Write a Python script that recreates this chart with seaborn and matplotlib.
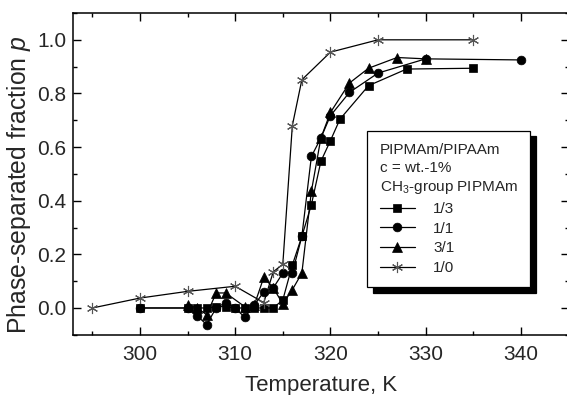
import matplotlib
matplotlib.use("Agg")
import matplotlib.pyplot as plt
import seaborn as sns
import numpy as np
from matplotlib.ticker import MultipleLocator

sns.set_style("ticks")
plt.rcParams['font.family'] = ['Liberation Sans', 'DejaVu Sans']
plt.rcParams['mathtext.fontset'] = 'custom'
plt.rcParams['mathtext.rm'] = 'Liberation Sans'
plt.rcParams['mathtext.it'] = 'Liberation Sans:italic'

# ---- data ----
t_13 = [300, 305, 306, 307, 308, 309, 310, 311, 312, 313, 314, 315, 316, 317, 318, 319, 320, 321, 324, 328, 335]
p_13 = [0, 0, 0, 0, 0.005, 0.005, 0, 0, 0, 0, 0, 0.03, 0.16, 0.267, 0.385, 0.547, 0.624, 0.704, 0.829, 0.891, 0.894]

t_11 = [300, 305, 306, 307, 308, 309, 310, 311, 312, 313, 314, 315, 316, 317, 318, 319, 320, 322, 325, 330, 340]
p_11 = [0, 0, -0.029, -0.062, 0, 0.02, 0, -0.035, 0.01, 0.06, 0.075, 0.13, 0.13, 0.267, 0.565, 0.634, 0.717, 0.804, 0.876, 0.929, 0.925]

t_31 = [305, 306, 307, 308, 309, 311, 312, 313, 314, 315, 316, 317, 318, 319, 320, 322, 324, 327, 330]
p_31 = [0.012, 0, -0.025, 0.056, 0.056, 0.005, 0.01, 0.114, 0.075, 0.015, 0.068, 0.13, 0.435, 0.634, 0.729, 0.839, 0.894, 0.934, 0.929]

t_10 = [295, 300, 305, 310, 313, 314, 315, 316, 317, 320, 325, 335]
p_10 = [0, 0.037, 0.062, 0.081, 0.02, 0.135, 0.163, 0.68, 0.851, 0.954, 1.0, 1.0]

labels = ["1/3", "1/1", "3/1", "1/0"]
legend_title = "PIPMAm/PIPAAm\nc = wt.-1%\nCH$_3$-group PIPMAm"
x_label = "Temperature, K"
y_label = "Phase-separated fraction $p$"
x_ticks = [300, 310, 320, 330, 340]
y_ticks = [0.0, 0.2, 0.4, 0.6, 0.8, 1.0]

fig = plt.figure(figsize=(5.67, 3.95), dpi=100)
W, H = 567, 395
AX_L, AX_R, AX_T, AX_B = 73.3, 568.5, 13.0, 334.8
ax = fig.add_axes([AX_L / W, (H - AX_B) / H, (AX_R - AX_L) / W, (AX_B - AX_T) / H])

series = [
    (t_13, p_13, 's', 5.5, 'black'),
    (t_11, p_11, 'o', 6.3, 'black'),
    (t_31, p_31, '^', 6.5, 'black'),
    (t_10, p_10, (6, 2, 0), 8, '#555555'),
]
for (tx, py, mk, ms, mc), lab in zip(series, labels):
    sns.lineplot(x=tx, y=py, ax=ax, color='black', lw=0.9, marker=mk, markersize=ms,
                 markerfacecolor=mc, markeredgecolor=mc, markeredgewidth=0.8 if mk == (6, 2, 0) else 0.5,
                 estimator=None, sort=False, label=lab)

ax.set_xlim(293, 345)
ax.set_ylim(-0.1, 1.1)
ax.set_xticks(x_ticks)
ax.set_yticks(y_ticks)
ax.set_yticklabels([f"{v:.1f}" for v in y_ticks])
ax.xaxis.set_minor_locator(MultipleLocator(5))
ax.yaxis.set_minor_locator(MultipleLocator(0.1))
ax.tick_params(which='both', direction='in', top=True, right=True, width=1.0, color='black')
ax.tick_params(which='major', length=5.5)
ax.tick_params(which='minor', length=3)
ax.tick_params(axis='x', which='major', labelsize=15, pad=7)
ax.tick_params(axis='y', which='major', labelsize=15, pad=5)
for s in ax.spines.values():
    s.set_linewidth(1.1)
    s.set_color('black')

ax.set_xlabel(x_label, fontsize=16, labelpad=8)
ax.set_ylabel(y_label, fontsize=17.8)
ax.yaxis.set_label_coords((33 - AX_L) / (AX_R - AX_L), (AX_B - 185) / (AX_B - AX_T))

handles = ax.get_lines()[:4]
leg = ax.legend(handles=handles, labels=labels, title=legend_title, alignment='left',
                loc='upper left',
                bbox_to_anchor=((367.3 - AX_L) / (AX_R - AX_L), (AX_B - 130.7) / (AX_B - AX_T)),
                borderaxespad=0, fontsize=11, title_fontsize=11, frameon=True, fancybox=False,
                framealpha=1, edgecolor='black', handlelength=2.3, handletextpad=1.2,
                labelspacing=0.37, borderpad=0.8,
                shadow={'ox': 4.3, 'oy': -4, 'facecolor': 'black', 'edgecolor': 'black', 'alpha': 1})
leg.get_frame().set_linewidth(0.9)
leg.get_title().set_linespacing(1.37)

fig.savefig("out.png", dpi=100)
